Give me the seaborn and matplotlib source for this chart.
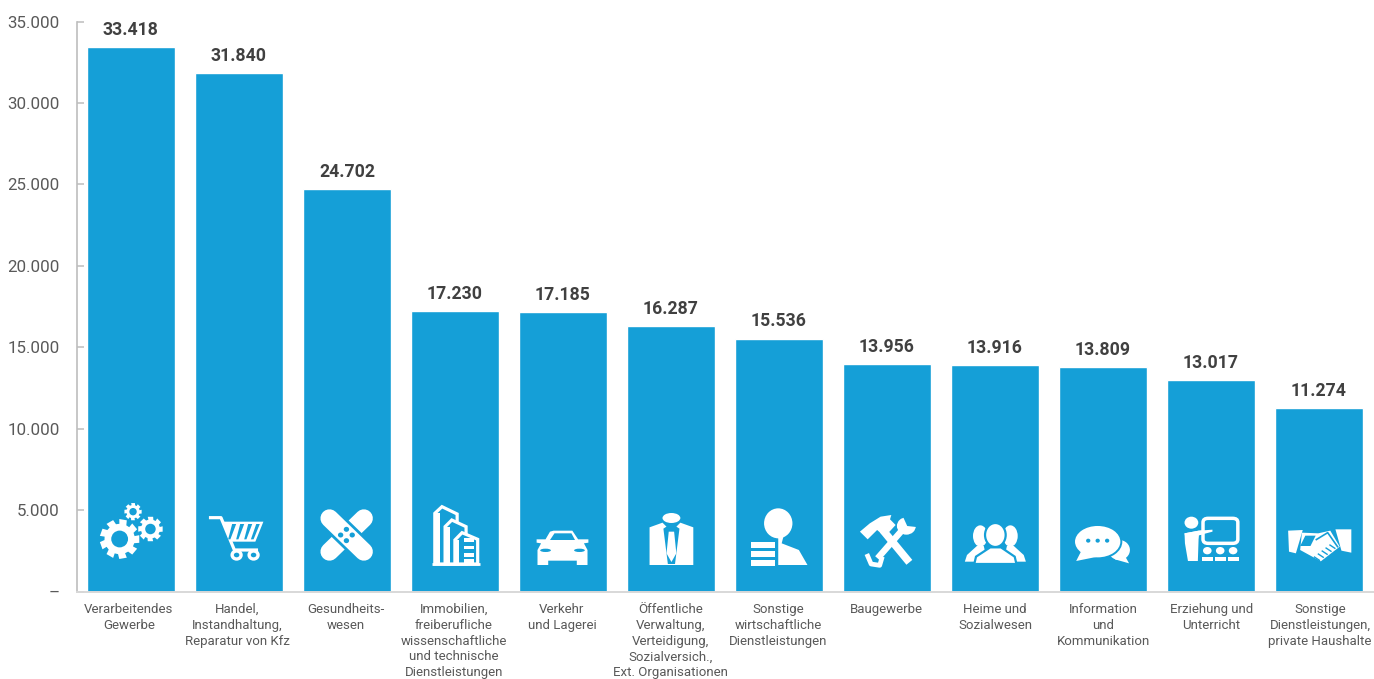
import matplotlib
matplotlib.use("Agg")
import matplotlib.pyplot as plt
import pandas as pd
import seaborn as sns
from matplotlib.lines import Line2D
from matplotlib.patches import Ellipse, FancyBboxPatch, Polygon, Rectangle
from matplotlib.ticker import FuncFormatter
from matplotlib.transforms import Affine2D
import numpy as np

categories = [
    "Verarbeitendes\nGewerbe",
    "Handel,\nInstandhaltung,\nReparatur von Kfz",
    "Gesundheits-\nwesen",
    "Immobilien,\nfreiberufliche\nwissenschaftliche\nund technische\nDienstleistungen",
    "Verkehr\nund Lagerei",
    "Öffentliche\nVerwaltung,\nVerteidigung,\nSozialversich.,\nExt. Organisationen",
    "Sonstige\nwirtschaftliche\nDienstleistungen",
    "Baugewerbe",
    "Heime und\nSozialwesen",
    "Information\nund\nKommunikation",
    "Erziehung und\nUnterricht",
    "Sonstige\nDienstleistungen,\nprivate Haushalte",
]
values = [33418, 31840, 24702, 17230, 17185, 16287, 15536, 13956, 13916, 13809, 13017, 11274]
y_ticks = [0, 5000, 10000, 15000, 20000, 25000, 30000, 35000]

BLUE = "#159FD7"
TICK_TXT = "#595959"
VAL_TXT = "#404040"
W, H = 1374, 679


def de(v):
    return f"{int(v):,}".replace(",", ".")


sns.set_theme(style="white")
plt.rcParams["font.family"] = ["Roboto", "DejaVu Sans"]

fig = plt.figure(figsize=(W / 100, H / 100), dpi=100, facecolor="white")
ax = fig.add_axes([77.3 / W, 1 - 591.6 / H, (W - 77.3) / W, (591.6 - 21.5) / H])
df = pd.DataFrame({"cat": categories, "val": values})
sns.barplot(data=df, x="cat", y="val", color=BLUE, saturation=1, width=0.81, ax=ax)

ax.set_xlim(-0.496, 11.510)
ax.set_ylim(0, 35000)
ax.set_xlabel("")
ax.set_ylabel("")
ax.set_yticks(y_ticks)
ax.yaxis.set_major_formatter(FuncFormatter(lambda v, _: "–" if v == 0 else de(v)))
ax.tick_params(axis="y", direction="in", length=5, width=1.1, color="#BDBDBD",
               labelsize=12.2, labelcolor=TICK_TXT, pad=12.6, left=True)
ax.tick_params(axis="x", length=0, pad=8.2)
ax.set_xticks(range(len(categories)))
ax.set_xticklabels(categories, fontsize=9.5, color=TICK_TXT, linespacing=1.28, va="top")
for i, t in enumerate(ax.get_xticklabels()):
    t.set_transform(t.get_transform() + Affine2D().translate(-2 + 3 * i / 11, 0))
for s in ("top", "right"):
    ax.spines[s].set_visible(False)
ax.spines["left"].set_color("#BDBDBD")
ax.spines["left"].set_linewidth(1.2)
ax.spines["bottom"].set_color("#D8D8D8")
ax.spines["bottom"].set_linewidth(1.4)

for c in ax.containers:
    ax.bar_label(c, labels=[de(v) for v in values], padding=5.8, fontsize=12.7,
                 fontweight="bold", color=VAL_TXT)

# Decorative white icons, placed in the image's own pixel space
px = Affine2D().scale(1 / W, -1 / H).translate(0, 1) + fig.transFigure
T1 = Affine2D().scale(1 / 2.24, 1 / 3).translate(0, 490) + px
T2 = Affine2D().scale(1 / 2.326, 1 / 3).translate(700, 490) + px


def add(p, T):
    p.set_transform(T)
    p.set_clip_on(False)
    p.set_zorder(5)
    fig.add_artist(p)


def poly(pts, T, fc="white", ec="none", lw=0):
    add(Polygon(pts, closed=True, fc=fc, ec=ec, lw=lw), T)


def ell(x, y, rx, ry, T, fc="white", ec="none", lw=0):
    add(Ellipse((x, y), 2 * rx, 2 * ry, fc=fc, ec=ec, lw=lw), T)


def line(pts, T, lw, color="white", cap="butt"):
    xs, ys = zip(*pts)
    add(Line2D(xs, ys, color=color, lw=lw, solid_capstyle=cap), T)


def gear(x, y, r, T, n=8):
    pts = []
    for i in range(n):
        a = 2 * np.pi * i / n
        st = np.pi / n
        for da, rr in ((-0.55 * st, r), (0.55 * st, r), (0.8 * st, r * 0.76), (1.45 * st, r * 0.76)):
            pts.append((x + 2.24 * rr * np.cos(a + da), y + 3 * rr * np.sin(a + da)))
    poly(pts, T)
    ell(x, y, 2.24 * r * 0.42, 3 * r * 0.42, T, fc=BLUE)


# 1 gears
gear(268, 147, 20, T1, 9)
gear(337, 117, 12.5, T1, 8)
gear(298, 65, 8.8, T1, 8)

# 2 cart
line([(468, 83), (495, 83), (525, 180), (578, 180)], T1, 2.3)
poly([(497, 95), (590, 95), (572, 155), (515, 155)], T1)
for x0 in (520, 538, 556):
    poly([(x0, 102), (x0 + 9, 102), (x0 - 4, 148), (x0 - 11 + 2, 148)], T1, fc=BLUE)
poly([(574, 102), (582, 102), (568, 148), (562, 148)], T1, fc=BLUE)
for x0 in (530, 568):
    ell(x0, 195, 10, 12, T1, fc=BLUE, ec="white", lw=2.4)

# 3 plaster
line([(815, 85), (738, 185)], T1, 13, cap="round")
line([(738, 85), (815, 185)], T1, 17, color=BLUE, cap="butt")
line([(738, 85), (815, 185)], T1, 13, cap="round")
for dx, dy in ((0, -17), (-13, 0), (13, 0), (0, 17)):
    ell(776 + dx, 135 + dy, 6, 7.5, T1, fc=BLUE)

# 4 buildings
poly([(974, 222), (974, 70), (990, 50), (1024, 72), (1024, 222)], T1, fc=BLUE, ec="white", lw=2.3)
add(Rectangle((974, 70), 12, 152, fc="white", ec="none"), T1)
poly([(997, 222), (997, 110), (1012, 90), (1044, 110), (1044, 222)], T1, fc=BLUE, ec="white", lw=2.3)
add(Rectangle((997, 110), 10, 112, fc="white", ec="none"), T1)
poly([(1019, 222), (1019, 150), (1035, 128), (1070, 148), (1070, 222)], T1, fc=BLUE, ec="white", lw=2.3)
add(Rectangle((1019, 150), 9, 72, fc="white", ec="none"), T1)
for y0 in (145, 168, 190, 208):
    add(Rectangle((1040, y0), 22, 10, fc="white", ec="none"), T1)
line([(968, 223), (1076, 223)], T1, 2)

# 5 car
poly([(1202, 148), (1222, 148), (1232, 125), (1240, 122), (1282, 122), (1295, 148), (1318, 148),
      (1318, 158), (1308, 160), (1316, 180), (1316, 225), (1292, 225), (1292, 212), (1228, 212),
      (1228, 225), (1204, 225), (1204, 180), (1212, 160), (1202, 158)], T1)
poly([(1232, 150), (1242, 130), (1280, 130), (1288, 150)], T1, fc=BLUE)
ell(1222, 181, 12, 5, T1, fc=BLUE)
ell(1298, 181, 12, 5, T1, fc=BLUE)

# 6 suit
poly([(1455, 112), (1484, 98), (1504, 125), (1524, 98), (1553, 112), (1553, 225), (1455, 225)], T1)
poly([(1486, 116), (1504, 100), (1522, 116), (1512, 222), (1496, 222)], T1, fc=BLUE)
poly([(1498, 125), (1510, 125), (1515, 190), (1504, 216), (1493, 190)], T1)
ell(1504, 84, 20, 15, T1)

# 7 person with list
ell(182, 100, 33, 45, T2)
poly([(170, 135), (195, 135), (190, 160), (230, 180), (250, 225), (182, 225), (182, 145)], T2)
for y0 in (157, 183, 210):
    add(Rectangle((118, y0), 57, 18, fc="white", ec="none"), T2)

# 8 tools
line([(425, 120), (487, 217)], T2, 5.5)
poly([(372, 125), (395, 100), (420, 80), (445, 75), (442, 88), (455, 105), (430, 140), (412, 120), (390, 148)], T2)
line([(413, 205), (472, 118)], T2, 4.6)
ell(480, 108, 22, 26, T2)
poly([(482, 108), (470, 74), (498, 84), (510, 112)], T2, fc=BLUE)
line([(388, 192), (398, 222), (418, 226), (424, 200)], T2, 3.4)

# 9 people
for hx, sgn in ((652, -1), (722, 1)):
    ell(hx, 138, 17, 32, T2)
    poly([(hx + 12 * sgn, 215), (hx + 36 * sgn, 215), (hx + 31 * sgn, 195), (hx + 8 * sgn, 168),
          (hx - 8 * sgn, 168), (hx - 14 * sgn, 200)], T2)
ell(687, 135, 24, 36, T2, ec=BLUE, lw=1.6)
poly([(638, 222), (642, 200), (675, 172), (700, 172), (732, 200), (736, 222)], T2, ec=BLUE, lw=1.6)

# 10 speech bubbles
ell(975, 180, 25, 30, T2)
poly([(998, 220), (965, 208), (985, 190)], T2)
ell(925, 155, 55, 50, T2, ec=BLUE, lw=1.4)
poly([(875, 213), (890, 175), (925, 200)], T2)
for x0 in (903, 925, 947):
    ell(x0, 152, 5, 6, T2, fc=BLUE)

# 11 teacher at a board
ell(1143, 98, 16, 18, T2)
poly([(1127, 130), (1160, 122), (1192, 119), (1192, 125), (1160, 136), (1158, 213), (1135, 213), (1128, 160)], T2)
add(FancyBboxPatch((1170, 85), 81, 75, boxstyle="round,pad=0,rounding_size=12", fc=BLUE, ec="white", lw=2.5), T2)
poly([(1127, 130), (1160, 122), (1192, 119), (1192, 125), (1160, 136), (1158, 150), (1130, 150)], T2)
for x0 in (1180, 1210, 1240):
    ell(x0, 182, 10, 11, T2)
    poly([(x0 - 13, 212), (x0 - 13, 200), (x0 + 13, 200), (x0 + 13, 212)], T2)

# 12 handshake
poly([(1368, 122), (1402, 120), (1386, 190), (1370, 185)], T2)
poly([(1478, 118), (1515, 118), (1515, 188), (1492, 182)], T2)
poly([(1400, 128), (1438, 130), (1466, 122), (1488, 170), (1444, 214), (1396, 180)], T2)
poly([(1408, 137), (1432, 137), (1420, 168), (1396, 168)], T2, fc=BLUE)
for k in range(5):
    line([(1428 + 9 * k, 200 - 9 * k), (1442 + 9 * k, 212 - 9 * k)], T2, 1, color=BLUE)
line([(1432, 150), (1460, 128), (1484, 172)], T2, 1.2, color=BLUE)

fig.savefig("out.png", dpi=100, facecolor="white")
